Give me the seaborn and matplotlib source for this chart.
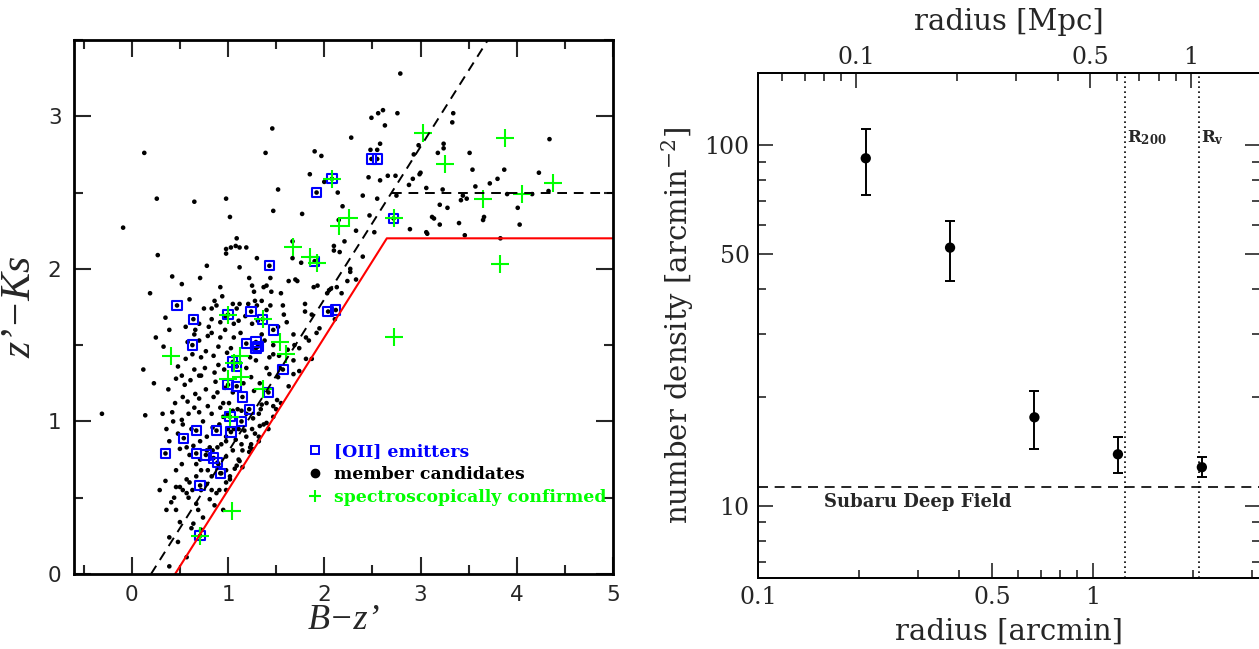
import numpy as np
import pandas as pd
import matplotlib
matplotlib.use("Agg")
import matplotlib.pyplot as plt
import seaborn as sns
from matplotlib.ticker import MultipleLocator, FixedLocator, NullFormatter, FixedFormatter
from matplotlib.lines import Line2D

# ---- left panel: colour-colour diagram ----
# member candidates (black dots)
memb_x = [1.46, 0.13, 1.39, 1.90, 1.97, 2.28, 1.85, 2.00, 2.14, 1.52, 0.26, 0.65, 0.98, 1.02, 1.47, 1.77,
          2.19, 2.15, 2.21, -0.09, 0.27, 1.09, 0.98, 0.98, 1.03, 1.08, 1.12, 1.19, 1.30, 1.67, 1.67, 1.76,
          2.10, 2.10, 2.16, 2.27, 2.27, 2.33, 2.24, 1.12, 0.42, 0.71, 0.92, 1.22, 1.25, 1.27, 1.37, 1.40,
          1.44, 1.70, 1.72, 1.89, 1.93, 2.03, 2.05, 2.07, 2.13, 2.18, 0.19, 0.94, 0.86, 0.88, 1.12, 1.35,
          1.44, 1.57, 1.80,
          2.79, 2.49, 2.56, 2.61, 2.76, 2.63, 3.34, 3.33, 4.34, 2.48, 2.55, 2.58, 2.98, 3.24, 3.24, 3.18,
          2.93, 3.51, 3.54, 3.87, 4.23, 3.80, 3.72, 3.57, 2.46, 2.58, 2.66, 2.74, 2.88, 2.92, 2.99, 3.00,
          3.06, 3.23, 3.44, 3.48, 3.42, 3.90, 4.16, 4.33, 2.40, 2.75, 2.55, 3.20, 3.28, 2.47, 3.12, 3.14,
          3.40, 3.66, 3.65, 4.01, 3.20, 4.03, 2.89, 3.06, 3.07, 3.46, 3.83, 2.33, 2.52, 2.40, 2.11,
          0.75, 0.83, 1.05, 1.09, 1.21, 1.28, 1.40, 1.61, 1.80, 1.87, 1.92, 1.95, 1.68, 1.81, 1.84, 1.74,
          1.87, 1.81, 1.62, 1.69, 1.53, 1.43, 1.47, 1.68, 1.63, 1.51, 1.47, 1.40, 1.35, 1.34, 1.32, 1.26,
          1.33, 1.37, 1.28, 1.32, 1.32, 1.24, 1.23, 1.15, 1.11, 1.09, 1.07, 0.98, 1.02, 0.98, 0.91, 0.88,
          0.81, 0.74, 0.67, 0.59, 0.50, 0.53, 0.57, 0.46, 0.44, 0.39, 0.41, 0.35, 0.46, 0.57, 0.60, 0.63,
          0.67, 0.72, 0.79, 0.67, 0.71, 0.78, 0.84, 0.81, 0.89, 0.98, 0.98, 0.93, 1.06, 1.11, 1.17, 1.14,
          1.19, 1.05, 0.99, 0.95, 0.91, 0.84, 0.78, 0.71, 0.64, 0.57, 0.50, 0.39, 0.32, 0.12, 0.23, -0.31,
          0.14, 0.43, 0.52, 0.53,
          0.59, 0.65, 0.70, 0.79, 0.83, 0.92, 1.01, 1.10,
          0.45, 0.53, 0.58, 0.66, 0.70, 0.77, 0.85, 0.89, 0.97, 1.05,
          0.38, 0.46, 0.52, 0.61, 0.65, 0.72, 0.76, 0.86, 0.90, 0.96,
          0.56, 0.63, 0.72, 0.77, 0.85, 0.90, 0.99, 1.03,
          0.58, 0.65, 0.70, 0.79, 0.83, 0.92, 0.97, 1.06, 1.13, 1.35, 1.38, 1.47,
          0.33, 0.39, 0.56, 0.66, 0.70, 0.80, 0.83, 0.92, 0.97, 1.06, 1.11, 1.18, 1.25, 1.31,
          1.52, 1.43, 1.54, 1.68, 1.74, 1.33, 1.24, 1.19, 1.23, 1.29, 1.40, 1.47, 1.42, 1.19, 1.14, 1.05,
          0.98, 0.90, 0.83, 0.78, 0.72, 0.83, 0.69, 0.64, 0.72, 0.57, 0.39, 0.50, 0.46, 0.36, 0.29,
          0.48, 0.55, 0.62, 0.74, 0.87, 0.95, 1.16, 1.27, 0.42, 0.36, 0.52, 0.60, 0.93, 1.12, 1.15, 1.02,
          0.86, 0.62, 0.48, 1.30, 1.52, 1.58, 1.45, 0.52, 0.60, 0.35, 0.25, 0.78, 1.63, 1.55, 0.70, 0.48,
          1.00, 1.08, 1.25, 1.25, 1.40, 1.55, 1.50, 1.22, 0.98, 0.95]
memb_y = [2.92, 2.76, 2.76, 2.77, 2.74, 2.86, 2.62, 2.57, 2.50, 2.52, 2.46, 2.44, 2.46, 2.34, 2.38, 2.36,
          2.41, 2.32, 2.18, 2.27, 2.09, 2.20, 2.13, 2.10, 2.14, 2.15, 2.14, 2.14, 2.07, 2.18, 2.07, 2.04,
          2.15, 2.12, 2.11, 2.00, 1.98, 1.93, 1.92, 2.01, 1.95, 1.94, 1.88, 1.94, 1.89, 1.85, 1.88, 1.89,
          1.94, 1.93, 1.92, 1.88, 1.89, 1.84, 1.86, 1.87, 1.88, 1.84, 1.84, 1.82, 1.79, 1.76, 1.77, 1.79,
          1.76, 1.76, 1.77,
          3.28, 2.99, 3.02, 3.04, 3.02, 2.94, 3.02, 2.96, 2.85, 2.78, 2.78, 2.82, 2.81, 2.82, 2.79, 2.76,
          2.75, 2.76, 2.65, 2.65, 2.63, 2.59, 2.56, 2.54, 2.60, 2.58, 2.61, 2.61, 2.55, 2.59, 2.62, 2.63,
          2.53, 2.52, 2.48, 2.46, 2.45, 2.49, 2.49, 2.51, 2.48, 2.48, 2.46, 2.42, 2.40, 2.35, 2.34, 2.33,
          2.30, 2.34, 2.32, 2.40, 2.29, 2.29, 2.26, 2.24, 2.23, 2.22, 2.20, 2.25, 2.24, 2.08, 1.67,
          1.74, 1.74, 1.77, 1.74, 1.77, 1.79, 1.73, 1.65, 1.72, 1.70, 1.58, 1.61, 1.57, 1.55, 1.53, 1.48,
          1.41, 1.41, 1.47, 1.50, 1.43, 1.42, 1.44, 1.40, 1.23, 1.14, 1.10, 1.12, 1.11, 1.08, 1.05, 1.02,
          0.97, 0.98, 0.92, 0.90, 0.87, 0.85, 0.83, 0.81, 0.75, 0.71, 0.69, 0.68, 0.64, 0.60, 0.55, 0.53,
          0.49, 0.37, 0.46, 0.50, 0.57, 0.55, 0.53, 0.57, 0.50, 0.24, 0.47, 0.61, 0.68, 0.62, 0.60, 0.55,
          0.64, 0.68, 0.68, 0.72, 0.75, 0.81, 0.81, 0.83, 0.83, 0.90, 0.87, 0.85, 0.95, 0.95, 0.94, 1.07,
          1.05, 1.07, 1.05, 1.03, 0.98, 0.96, 0.90, 0.87, 0.84, 0.83, 0.82, 0.87, 1.05, 1.34, 1.25, 1.05,
          1.04, 1.00, 1.01, 0.98,
          1.05, 1.09, 1.06, 1.10, 1.05, 1.09, 1.12, 1.08,
          1.12, 1.16, 1.13, 1.18, 1.15, 1.21, 1.16, 1.19, 1.22, 1.19,
          1.21, 1.28, 1.30, 1.27, 1.34, 1.30, 1.35, 1.32, 1.37, 1.34,
          1.41, 1.44, 1.42, 1.46, 1.43, 1.49, 1.45, 1.48,
          1.52, 1.57, 1.53, 1.56, 1.58, 1.55, 1.60, 1.55, 1.58, 1.57, 1.53, 1.50,
          1.49, 1.60, 1.62, 1.60, 1.64, 1.62, 1.67, 1.65, 1.69, 1.64, 1.66, 1.69, 1.64, 1.66,
          1.29, 1.31, 1.35, 1.31, 1.33, 1.25, 1.29, 1.35, 1.42, 1.40, 1.35, 1.03, 0.95, 0.90, 0.85, 0.81,
          0.77, 0.72, 0.64, 0.59, 0.55, 0.55, 0.42, 0.33, 0.29, 0.11, 0.05, 0.34, 0.42, 0.42, 0.55,
          1.36, 1.24, 0.95, 1.00, 1.26, 1.12, 1.25, 1.20, 1.06, 0.95, 0.72, 0.78, 0.66, 0.74, 0.70, 0.62,
          0.45, 0.30, 0.21, 1.76, 1.62, 1.70, 1.85, 1.90, 1.80, 1.68, 1.55, 2.02, 1.92, 1.84, 1.30, 0.92,
          0.95, 0.88, 0.95, 0.82, 0.99, 1.12, 1.08, 0.80, 0.55, 0.42]

# [OII] emitters (blue open squares)
oii_x = [2.08, 1.92, 2.49, 2.55, 1.90, 1.43, 2.72, 2.04, 2.12, 0.47, 0.64, 0.63, 1.24, 1.00, 1.36, 1.47,
         1.19, 1.29, 1.31, 1.29, 1.05, 1.09, 1.57, 1.00, 1.09, 1.42, 1.15, 1.22, 1.14, 1.02, 0.67, 0.88,
         1.03, 0.54, 0.35, 0.67, 0.77, 0.85, 0.89, 0.92, 0.71, 0.71]
oii_y = [2.59, 2.50, 2.72, 2.72, 2.05, 2.02, 2.33, 1.72, 1.73, 1.76, 1.67, 1.50, 1.72, 1.70, 1.67, 1.60,
         1.51, 1.52, 1.49, 1.48, 1.39, 1.36, 1.34, 1.24, 1.23, 1.19, 1.16, 1.08, 1.00, 1.03, 0.94, 0.94,
         0.93, 0.89, 0.79, 0.79, 0.78, 0.76, 0.73, 0.66, 0.58, 0.25]

# spectroscopically confirmed (green crosses)
spec_x = [2.08, 3.03, 3.88, 3.25, 4.38, 1.67, 2.26, 2.15, 1.85, 1.92, 3.65, 4.05, 2.72, 3.83, 2.72, 0.41,
          1.00, 1.36, 1.54, 1.60, 1.12, 1.06, 1.00, 1.14, 1.36, 1.02, 1.04, 0.71]
spec_y = [2.59, 2.89, 2.86, 2.69, 2.56, 2.14, 2.33, 2.28, 2.08, 2.04, 2.46, 2.49, 2.33, 2.03, 1.55, 1.43,
          1.70, 1.67, 1.52, 1.44, 1.43, 1.38, 1.28, 1.29, 1.21, 1.03, 0.41, 0.25]

# selection boundaries
cut_x = [0.45, 2.65, 5.0]
cut_y = [0.0, 2.2, 2.2]
seq_x = [0.2, 3.7]
seq_y = [0.0, 3.5]
seq_flat_x = [2.7, 5.0]
seq_flat_y = [2.5, 2.5]

# ---- right panel: radial number density ----
radius_arcmin = [0.21, 0.375, 0.67, 1.19, 2.12]
density = [92.0, 52.0, 17.6, 13.9, 12.8]
density_lo = [72.6, 42.1, 14.4, 12.3, 12.0]
density_hi = [111.0, 61.8, 20.8, 15.5, 13.7]
sdf_level = 11.3
r200 = 1.25
rvir = 2.08
mpc_per_arcmin = 0.508

sns.set_theme(style="ticks")
plt.rcParams["font.family"] = ["DejaVu Serif"]
plt.rcParams["mathtext.fontset"] = "dejavuserif"

fig = plt.figure(figsize=(12.59, 6.49), dpi=100)

# ======== left ========
ax = fig.add_axes([0.0588, 0.1156, 0.4281, 0.8228])
members = pd.DataFrame({"x": memb_x + oii_x, "y": memb_y + oii_y})
sns.scatterplot(data=members, x="x", y="y", color="black", s=11, edgecolor="none", ax=ax)
sns.scatterplot(x=oii_x, y=oii_y, marker="s", s=45, facecolor="none", edgecolor="blue",
                linewidth=1.5, ax=ax)
sns.scatterplot(x=spec_x, y=spec_y, marker="+", s=170, color="lime", linewidth=1.5, ax=ax)
ax.plot(cut_x, cut_y, color="red", lw=1.5)
ax.plot(seq_x, seq_y, color="black", lw=1.4, ls=(0, (5, 3.5)))
ax.plot(seq_flat_x, seq_flat_y, color="black", lw=1.4, ls=(0, (5, 3.5)))

ax.set_xlim(-0.6, 5)
ax.set_ylim(0, 3.5)
ax.xaxis.set_major_locator(MultipleLocator(1))
ax.xaxis.set_minor_locator(MultipleLocator(0.5))
ax.yaxis.set_major_locator(MultipleLocator(1))
ax.yaxis.set_minor_locator(MultipleLocator(0.5))
ax.tick_params(which="both", direction="in", top=True, right=True, width=1.5)
ax.tick_params(which="major", length=12)
ax.tick_params(which="minor", length=6.5)
ax.tick_params(axis="x", pad=8)
ax.tick_params(axis="y", pad=9)
for lab in ax.get_xticklabels() + ax.get_yticklabels():
    lab.set_family("DejaVu Sans")
    lab.set_fontsize(15.5)
for sp in ax.spines.values():
    sp.set_linewidth(2.0)
    sp.set_color("black")
ax.set_xlabel("B−z’", family="Liberation Serif", style="italic", fontsize=26, labelpad=-0.5)
ax.set_ylabel("z’−Ks", family="Liberation Serif", style="italic", fontsize=30, labelpad=6)

handles = [
    Line2D([], [], ls="none", marker="s", markersize=6, mfc="none", mec="blue", mew=1.4),
    Line2D([], [], ls="none", marker="o", markersize=6, color="black"),
    Line2D([], [], ls="none", marker="+", markersize=9, color="lime", mew=1.5),
]
ax.legend(handles, ["[OII] emitters", "member candidates", "spectroscopically confirmed"],
          loc="upper left", bbox_to_anchor=(0.434, 0.246), frameon=False,
          prop={"family": "DejaVu Serif", "weight": "bold", "size": 12.4},
          labelcolor=["blue", "black", "lime"], handlelength=0.8, handletextpad=0.7,
          labelspacing=0.36, borderpad=0, borderaxespad=0)

# ======== right ========
ax2 = fig.add_axes([0.602, 0.1094, 0.3987, 0.778])
yerr = [np.array(density) - np.array(density_lo), np.array(density_hi) - np.array(density)]
ax2.errorbar(radius_arcmin, density, yerr=yerr, fmt="none", ecolor="black", elinewidth=1.4,
             capsize=3.5, capthick=1.4)
sns.scatterplot(x=radius_arcmin, y=density, color="black", s=55, edgecolor="none", ax=ax2, zorder=3)
ax2.axhline(sdf_level, color="black", lw=1.2, ls=(0, (6, 4)))
ax2.axvline(r200, color="black", lw=1.2, ls=(0, (1, 2)))
ax2.axvline(rvir, color="black", lw=1.2, ls=(0, (1, 2)))
ax2.text(r200 * 1.015, 102, r"R$_{\mathbf{200}}$", fontsize=12, fontweight="bold", va="baseline")
ax2.text(rvir * 1.015, 102, r"R$_{\mathbf{v}}$", fontsize=12, fontweight="bold", va="baseline")
ax2.text(0.158, 9.95, "Subaru Deep Field", fontsize=13, fontweight="bold", va="baseline")

ax2.set_xscale("log")
ax2.set_yscale("log")
ax2.set_xlim(0.1, 3.16)
ax2.set_ylim(10 ** 0.8, 10 ** 2.2)
ax2.xaxis.set_major_locator(FixedLocator([0.1, 0.5, 1]))
ax2.xaxis.set_major_formatter(FixedFormatter(["0.1", "0.5", "1"]))
ax2.xaxis.set_minor_locator(FixedLocator([0.2, 0.3, 0.4, 0.6, 0.7, 0.8, 0.9, 2, 3]))
ax2.xaxis.set_minor_formatter(NullFormatter())
ax2.yaxis.set_major_locator(FixedLocator([10, 50, 100]))
ax2.yaxis.set_major_formatter(FixedFormatter(["10", "50", "100"]))
ax2.yaxis.set_minor_locator(FixedLocator([7, 8, 9, 20, 30, 40, 60, 70, 80, 90]))
ax2.yaxis.set_minor_formatter(NullFormatter())
ax2.tick_params(which="both", direction="in", right=True, top=False, width=1.2, labelsize=17)
ax2.tick_params(which="major", length=11)
ax2.tick_params(which="minor", length=5.5)
ax2.tick_params(axis="x", pad=6)
ax2.tick_params(axis="y", pad=6)
for sp in ax2.spines.values():
    sp.set_linewidth(1.3)
    sp.set_color("black")
ax2.set_xlabel("radius [arcmin]", fontsize=21, va="center")
ax2.xaxis.set_label_coords(0.5, -0.107)
ax2.set_ylabel(r"number density [arcmin$^{-2}$]", fontsize=21, va="center")
ax2.yaxis.set_label_coords(-0.159, 0.5)

ax3 = ax2.twiny()
ax3.set_xscale("log")
ax3.set_xlim(0.1 * mpc_per_arcmin, 3.16 * mpc_per_arcmin)
ax3.xaxis.set_major_locator(FixedLocator([0.1, 0.5, 1]))
ax3.xaxis.set_major_formatter(FixedFormatter(["0.1", "0.5", "1"]))
ax3.xaxis.set_minor_locator(FixedLocator([0.06, 0.07, 0.08, 0.09, 0.2, 0.3, 0.4, 0.6, 0.7, 0.8, 0.9]))
ax3.xaxis.set_minor_formatter(NullFormatter())
ax3.tick_params(which="both", direction="in", width=1.2, labelsize=17, pad=3)
ax3.tick_params(which="major", length=11)
ax3.tick_params(which="minor", length=5.5)
for sp in ax3.spines.values():
    sp.set_linewidth(1.3)
    sp.set_color("black")
ax3.set_xlabel("radius [Mpc]", fontsize=21, va="center")
ax3.xaxis.set_label_coords(0.5, 1.101)

fig.savefig("out.png", dpi=100)
